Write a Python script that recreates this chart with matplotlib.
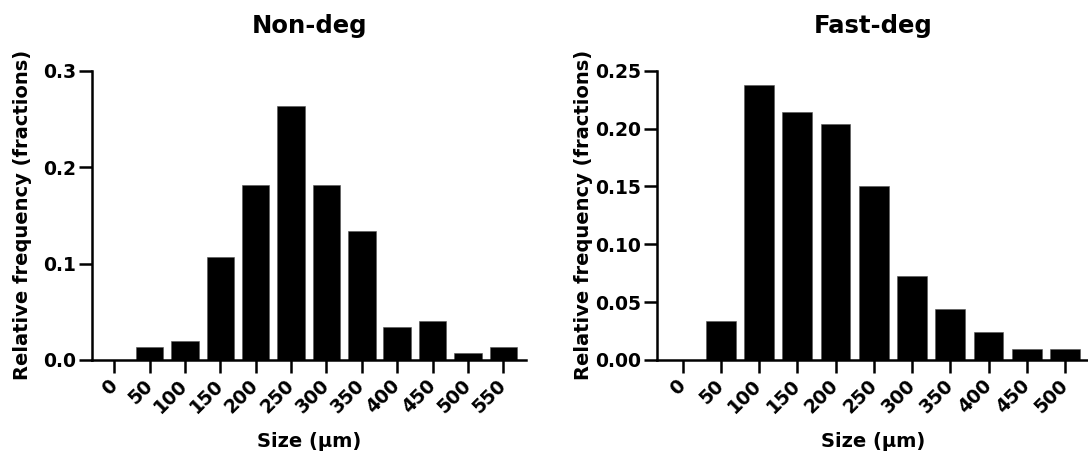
import numpy as np
import matplotlib
matplotlib.use('Agg')
import matplotlib.pyplot as plt
from matplotlib.ticker import FormatStrFormatter

#------------- Data -------------#
non_deg_sizes = [0, 50, 100, 150, 200, 250, 300, 350, 400, 450, 500, 550]
non_deg_freq = [0.0, 0.013, 0.020, 0.107, 0.181, 0.263, 0.181, 0.134, 0.034, 0.040, 0.007, 0.013]

fast_deg_sizes = [0, 50, 100, 150, 200, 250, 300, 350, 400, 450, 500]
fast_deg_freq = [0.0, 0.034, 0.238, 0.214, 0.204, 0.150, 0.073, 0.044, 0.024, 0.0095, 0.0095]

non_deg_yticks = [0.0, 0.1, 0.2, 0.3]
fast_deg_yticks = [0.00, 0.05, 0.10, 0.15, 0.20, 0.25]

#------------- Matplotlib settings -------------#
plt.rcParams['font.family'] = 'DejaVu Sans'
plt.rcParams['font.weight'] = 'bold'
plt.rcParams['axes.linewidth'] = 1.8
plt.rcParams['xtick.major.width'] = plt.rcParams['ytick.major.width'] = 1.8
plt.rcParams['xtick.major.size'] = plt.rcParams['ytick.major.size'] = 9.5
plt.rcParams['xtick.labelsize'] = plt.rcParams['ytick.labelsize'] = 13.5


def draw_panel(ax, sizes, freq, yticks, fmt, title, xlim, ylabel_x):
    ax.bar(sizes, freq, width=39, color='black', edgecolor='#555555', linewidth=0.4, zorder=1)
    ax.set_xlim(*xlim)
    ax.set_ylim(yticks[0], yticks[-1])
    ax.set_xticks(sizes)
    ax.set_xticklabels([str(s) for s in sizes], rotation=45, ha='right', va='center',
                       rotation_mode='anchor')
    ax.set_yticks(yticks)
    ax.yaxis.set_major_formatter(FormatStrFormatter(fmt))
    ax.tick_params(axis='y', pad=2)
    ax.tick_params(axis='x', pad=7)
    for side in ('top', 'right'):
        ax.spines[side].set_visible(False)
    ax.set_title(title, fontsize=17.5, fontweight='bold', pad=27)
    ax.set_xlabel('Size (μm)', fontsize=14, fontweight='bold')
    ax.xaxis.set_label_coords(0.5, -0.25)
    ax.set_ylabel('Relative frequency (fractions)', fontsize=14, fontweight='bold')
    ax.yaxis.set_label_coords(ylabel_x, 0.5)


fig = plt.figure(figsize=(10.88, 4.58), dpi=100)
ax1 = fig.add_axes([0.0848, 0.2140, 0.3986, 0.6317])
ax2 = fig.add_axes([0.6041, 0.2140, 0.3959, 0.6317])

draw_panel(ax1, non_deg_sizes, non_deg_freq, non_deg_yticks, '%.1f', 'Non-deg', (-31, 582), -0.139)
draw_panel(ax2, fast_deg_sizes, fast_deg_freq, fast_deg_yticks, '%.2f', 'Fast-deg', (-33, 530), -0.149)

fig.savefig('out.png', dpi=100)
